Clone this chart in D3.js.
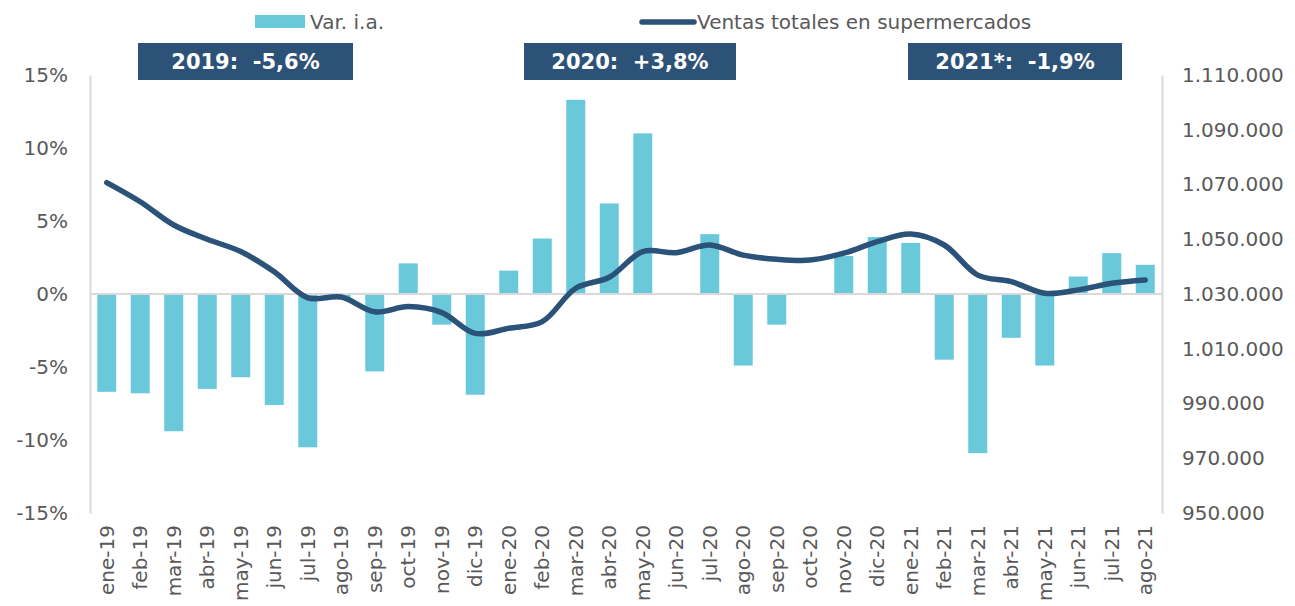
<!DOCTYPE html>
<html>
<head>
<meta charset="utf-8">
<script src="https://cdn.jsdelivr.net/npm/d3@7"></script>
<style>
  html, body { margin: 0; padding: 0; background: #ffffff; }
  svg { display: block; }
  text { font-family: "DejaVu Sans", Verdana, sans-serif; }
</style>
</head>
<body>
<svg id="chart" width="1295" height="606"></svg>
<script>
// ---- Data ----
const categories = ["ene-19","feb-19","mar-19","abr-19","may-19","jun-19","jul-19","ago-19","sep-19","oct-19","nov-19","dic-19",
  "ene-20","feb-20","mar-20","abr-20","may-20","jun-20","jul-20","ago-20","sep-20","oct-20","nov-20","dic-20",
  "ene-21","feb-21","mar-21","abr-21","may-21","jun-21","jul-21","ago-21"];
const varIA = [-6.7,-6.8,-9.4,-6.5,-5.7,-7.6,-10.5,-0.3,-5.3,2.1,-2.1,-6.9,
  1.6,3.8,13.3,6.2,11.0,0.0,4.1,-4.9,-2.1,0.0,2.6,3.9,
  3.5,-4.5,-10.9,-3.0,-4.9,1.2,2.8,2.0];
const ventas = [1070700,1063700,1055200,1050000,1045500,1038100,1028600,1028900,1023500,1025400,1023200,1015600,
  1017500,1019900,1032100,1036100,1045500,1045100,1047900,1044200,1042700,1042400,1044900,1049100,
  1051900,1047900,1036900,1034500,1030300,1031500,1033900,1035100];
const leftTicks = [-15,-10,-5,0,5,10,15];
const rightTicks = [950000,970000,990000,1010000,1030000,1050000,1070000,1090000,1110000];
const yearLabels = ["2019:  -5,6%","2020:  +3,8%","2021*:  -1,9%"];
const legendLabels = ["Var. i.a.","Ventas totales en supermercados"];

// ---- Layout ----
const plotLeft = 90, plotRight = 1162, plotTop = 75, plotBottom = 513;
const barColor = "#69C8DA", lineColor = "#2B5278", boxColor = "#2D5277";
const axisColor = "#D9D9D9", textColor = "#595959";
const FONT = "'DejaVu Sans', Verdana, sans-serif";

const svg = d3.select("#chart");

const x = d3.scaleBand().domain(categories).range([plotLeft, plotRight]).paddingInner(0.433).paddingOuter(0.2165);
const yL = d3.scaleLinear().domain([-15, 15]).range([plotBottom, plotTop]);
const yR = d3.scaleLinear().domain([950000, 1110000]).range([plotBottom, plotTop]);

const locale = d3.formatLocale({decimal: ",", thousands: ".", grouping: [3], currency: ["", "€"]});
const fmtR = locale.format(",.0f");

// Left axis
const gL = svg.append("g").attr("transform", `translate(${plotLeft},0)`)
  .call(d3.axisLeft(yL).tickValues(leftTicks).tickSize(0).tickSizeOuter(0).tickPadding(22).tickFormat(d => d + "%"));
gL.select(".domain").attr("stroke", axisColor).attr("stroke-width", 2);
gL.selectAll("text").attr("fill", textColor).style("font-size", "20px").style("font-family", FONT);

// Right axis
const gR = svg.append("g").attr("transform", `translate(${plotRight},0)`)
  .call(d3.axisRight(yR).tickValues(rightTicks).tickSize(0).tickSizeOuter(0).tickPadding(20).tickFormat(d => fmtR(d)));
gR.select(".domain").attr("stroke", axisColor).attr("stroke-width", 2);
gR.selectAll("text").attr("fill", textColor).style("font-size", "20px").style("font-family", FONT);

// Bars
svg.append("g").selectAll("rect").data(categories).join("rect")
  .attr("x", (c) => x(c))
  .attr("width", x.bandwidth())
  .attr("y", (c, i) => yL(Math.max(0, varIA[i])))
  .attr("height", (c, i) => Math.abs(yL(varIA[i]) - yL(0)))
  .attr("fill", barColor);

// Zero line
svg.append("line")
  .attr("x1", plotLeft).attr("x2", plotRight)
  .attr("y1", yL(0)).attr("y2", yL(0))
  .attr("stroke", axisColor).attr("stroke-width", 2);

// X axis labels
const gX = svg.append("g").attr("transform", `translate(0,${plotBottom})`)
  .call(d3.axisBottom(x).tickSize(0).tickPadding(0));
gX.select(".domain").remove();
gX.selectAll("text")
  .attr("fill", textColor)
  .style("font-size", "20px")
  .style("font-family", FONT)
  .attr("text-anchor", "end")
  .attr("transform", "rotate(-90)")
  .attr("x", -12)
  .attr("y", 0)
  .attr("dy", "0.36em");

// Line
const line = d3.line()
  .x((d, i) => x(categories[i]) + x.bandwidth() / 2)
  .y(d => yR(d))
  .curve(d3.curveCatmullRom.alpha(0.5));
svg.append("path").datum(ventas)
  .attr("d", line)
  .attr("fill", "none")
  .attr("stroke", lineColor)
  .attr("stroke-width", 5.5)
  .attr("stroke-linecap", "round")
  .attr("stroke-linejoin", "round");

// Year boxes
const boxes = [{x0: 138, x1: 353}, {x0: 524, x1: 736}, {x0: 908, x1: 1122}];
const gB = svg.append("g");
boxes.forEach((b, i) => {
  gB.append("rect").attr("x", b.x0).attr("y", 43).attr("width", b.x1 - b.x0).attr("height", 37).attr("fill", boxColor);
  gB.append("text").attr("x", (b.x0 + b.x1) / 2).attr("y", 69)
    .attr("text-anchor", "middle").attr("fill", "#ffffff")
    .style("font-size", "21px").style("font-weight", "bold").style("white-space", "pre")
    .style("font-family", FONT)
    .text(yearLabels[i]);
});

// Legend
const gLeg = svg.append("g");
gLeg.append("rect").attr("x", 255).attr("y", 15).attr("width", 50).attr("height", 13).attr("fill", barColor);
gLeg.append("text").attr("x", 310).attr("y", 29).attr("fill", textColor).style("font-size", "20px").style("font-family", FONT).text(legendLabels[0]);
gLeg.append("line").attr("x1", 642).attr("x2", 694).attr("y1", 22).attr("y2", 22)
  .attr("stroke", lineColor).attr("stroke-width", 5.5).attr("stroke-linecap", "round");
gLeg.append("text").attr("x", 697).attr("y", 29).attr("fill", textColor).style("font-size", "20px").style("font-family", FONT).text(legendLabels[1]);
</script>
</body>
</html>
